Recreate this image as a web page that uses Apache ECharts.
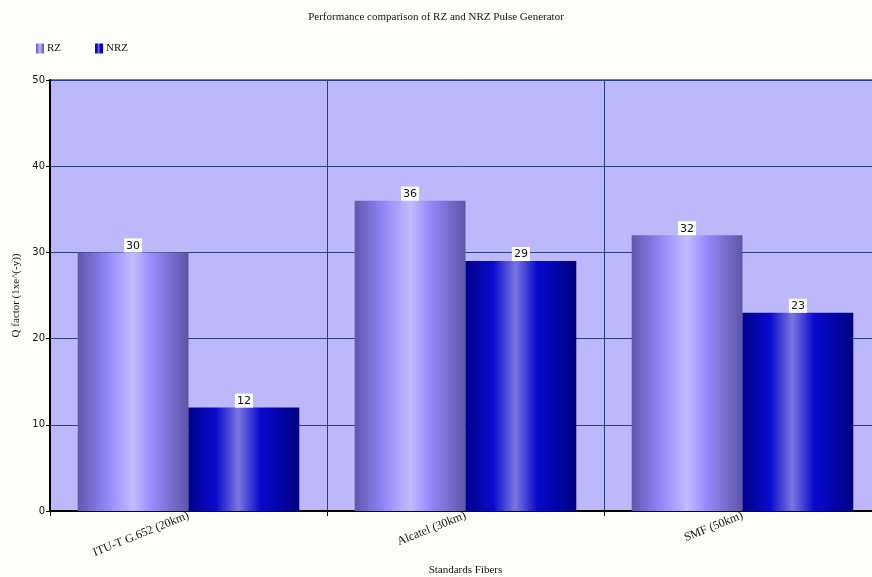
<!DOCTYPE html>
<html>
<head>
<meta charset="utf-8">
<script src="https://cdn.jsdelivr.net/npm/echarts@6/dist/echarts.min.js"></script>
<style>
  html, body { margin: 0; padding: 0; background: #fffffa; }
  #chart { width: 872px; height: 577px; }
</style>
</head>
<body>
<div id="chart"></div>
<script>
// Fibre categories and Q factor values for each pulse format
const categories = ['ITU-T G.652 (20km)', 'Alcatel (30km)', 'SMF (50km)'];
const rzValues = [30, 36, 32];
const nrzValues = [12, 29, 23];
const yTicks = [0, 10, 20, 30, 40, 50];

const serif = '"Liberation Serif", "DejaVu Serif", serif';
const sans = '"DejaVu Sans", Verdana, sans-serif';

// Cylinder-like horizontal shading for each series
function shade(stops) {
  return new echarts.graphic.LinearGradient(0, 0, 1, 0,
    stops.map(([offset, color]) => ({ offset, color })));
}
const rzFill = shade([[0, '#5f58ac'], [0.25, '#8d85f6'], [0.5, '#c3bcff'], [0.68, '#9389fa'], [1, '#5c56a6']]);
const nrzFill = shade([[0, '#00008c'], [0.25, '#0a0acc'], [0.45, '#7a76e0'], [0.65, '#0808cc'], [1, '#000080']]);

const valueLabel = {
  show: true,
  position: 'top',
  distance: 0,
  color: '#111',
  fontFamily: sans,
  fontSize: 11,
  backgroundColor: '#ffffff',
  padding: [2, 2, 1, 2]
};

const chart = echarts.init(document.getElementById('chart'), null, { renderer: 'canvas' });
chart.setOption({
  backgroundColor: '#fffffa',
  animation: false,
  title: {
    text: 'Performance comparison of RZ and NRZ Pulse Generator',
    left: 'center',
    top: 7,
    textStyle: { fontFamily: serif, fontSize: 11, fontWeight: 'normal', color: '#111' }
  },
  legend: {
    left: 31,
    top: 38,
    itemWidth: 8,
    itemHeight: 10,
    itemGap: 34,
    icon: 'rect',
    textStyle: { fontFamily: serif, fontSize: 11, color: '#111', padding: [0, 0, 0, -2] },
    data: ['RZ', 'NRZ']
  },
  grid: {
    left: 50,
    top: 80,
    right: -9,
    bottom: 66,
    outerBoundsMode: 'none',
    containLabel: false,
    show: true,
    backgroundColor: '#bdb8f9',
    borderColor: '#000',
    borderWidth: 1
  },
  xAxis: {
    type: 'category',
    data: categories,
    name: 'Standards Fibers',
    nameLocation: 'middle',
    nameGap: 52,
    nameTextStyle: { fontFamily: serif, fontSize: 11, color: '#111' },
    axisLine: { lineStyle: { color: '#000', width: 2 } },
    axisTick: { show: true, length: 5, lineStyle: { color: '#000' } },
    splitLine: { show: true, lineStyle: { color: '#253f80', width: 1 } },
    axisLabel: {
      rotate: 22,
      margin: 4,
      fontFamily: serif,
      fontSize: 12,
      color: '#111'
    }
  },
  yAxis: {
    type: 'value',
    min: yTicks[0],
    max: yTicks[yTicks.length - 1],
    interval: 10,
    name: 'Q factor (1xe^(-y))',
    nameLocation: 'middle',
    nameGap: 22,
    nameTextStyle: { fontFamily: serif, fontSize: 11, color: '#111' },
    axisLine: { show: true, lineStyle: { color: '#000', width: 2 } },
    axisTick: { show: true, length: 4, lineStyle: { color: '#000' } },
    axisLabel: { fontFamily: sans, fontSize: 10, color: '#111', margin: 5 },
    splitLine: { show: true, lineStyle: { color: '#253f80', width: 1 } }
  },
  series: [
    {
      name: 'RZ',
      type: 'bar',
      data: rzValues,
      barGap: '0%',
      barCategoryGap: '20%',
      itemStyle: { color: rzFill },
      label: valueLabel
    },
    {
      name: 'NRZ',
      type: 'bar',
      data: nrzValues,
      barGap: '0%',
      barCategoryGap: '20%',
      itemStyle: { color: nrzFill },
      label: valueLabel
    }
  ]
});
</script>
</body>
</html>
